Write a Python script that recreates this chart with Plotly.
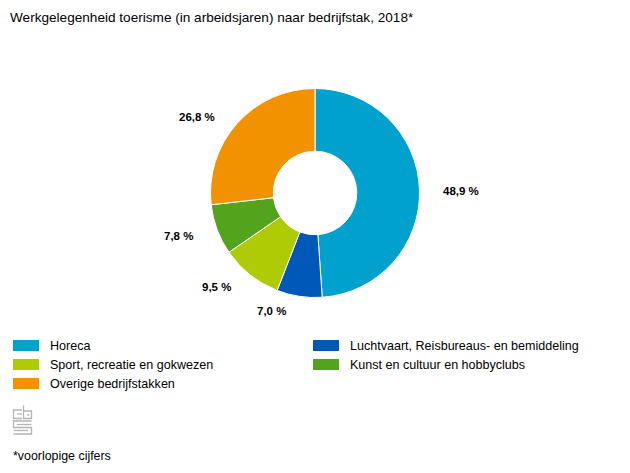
import plotly.graph_objects as go

OFF = 8  # the page's own margin around the figure
W, H = 630 - OFF, 473 - OFF
categories = ["Horeca", "Luchtvaart, Reisbureaus- en bemiddeling", "Sport, recreatie en gokwezen",
              "Kunst en cultuur en hobbyclubs", "Overige bedrijfstakken"]
values = [48.9, 7.0, 9.5, 7.8, 26.8]
colors = ["#00A1CD", "#0058B8", "#AFCB05", "#53A31D", "#F39200"]
title = "Werkgelegenheid toerisme (in arbeidsjaren) naar bedrijfstak, 2018*"
footnote = "*voorlopige cijfers"
FONT = "Liberation Sans, Arial, sans-serif"

# label anchor pixels (centre of each value label)
label_pos = [(461, 191), (271, 311), (216, 287), (178, 236), (197, 117)]
# legend slots pixels: (swatch x, row y centre)
legend_pos = [(13, 345.5), (313, 345.5), (13, 364.5), (313, 364.5), (13, 383.5)]

cx, cy, r = 315, 193, 104.5


def px(x):
    return (x - OFF) / W


def py(y):
    return 1 - (y - OFF) / H


fig = go.Figure(go.Pie(
    labels=categories, values=values, sort=False, direction="clockwise", rotation=0,
    hole=0.4, textinfo="none", showlegend=False, hoverinfo="label+value",
    marker=dict(colors=colors, line=dict(color="white", width=1)),
    domain=dict(x=[px(cx - r), px(cx + r)], y=[py(cy + r), py(cy - r)]),
))

ann = []
shapes = []


def text(x, y, s, size, anchor="left", bold=False):
    ann.append(dict(x=px(x), y=py(y), xref="paper", yref="paper", text=f"<b>{s}</b>" if bold else s,
                    showarrow=False, xanchor=anchor, yanchor="middle",
                    font=dict(family=FONT, size=size, color="#000000"),
                    borderpad=0, borderwidth=0))


text(10, 18, title, 13.6)
for v, (x, y) in zip(values, label_pos):
    text(x, y, f"{v:.1f} %".replace(".", ","), 11.5, "center", True)
for c, col, (x, y) in zip(categories, colors, legend_pos):
    shapes.append(dict(type="rect", xref="paper", yref="paper", x0=px(x), x1=px(x + 26),
                       y0=py(y + 5.5), y1=py(y - 5.5), fillcolor=col, line_width=0))
    text(x + 37, y, c, 12.55)
text(13, 456, footnote, 12.4)

# CBS logo outline
logo = [
    [(22, 410), (13.5, 410), (13.5, 418.5), (22, 418.5)], [(22, 414), (17, 414)],
    [(23.5, 405.5), (23.5, 418.5), (31.5, 418.5), (31.5, 411), (23.5, 411)], [(27, 415), (29, 415)],
    [(31.5, 421), (13.5, 421), (13.5, 427.5), (31.5, 427.5), (31.5, 434), (13.5, 434)],
    [(13.5, 430.5), (28, 430.5)], [(17, 424.5), (31.5, 424.5)],
]
for seg in logo:
    d = "M" + "L".join(f"{px(a)},{py(b)}" for a, b in seg)
    shapes.append(dict(type="path", xref="paper", yref="paper", path=d,
                       line=dict(color="#B4B4B4", width=1.3)))

fig.update_layout(width=W, height=H, margin=dict(l=0, r=0, t=0, b=0), paper_bgcolor="white",
                  plot_bgcolor="white", annotations=ann, shapes=shapes, showlegend=False)
fig.write_html("out.html")
